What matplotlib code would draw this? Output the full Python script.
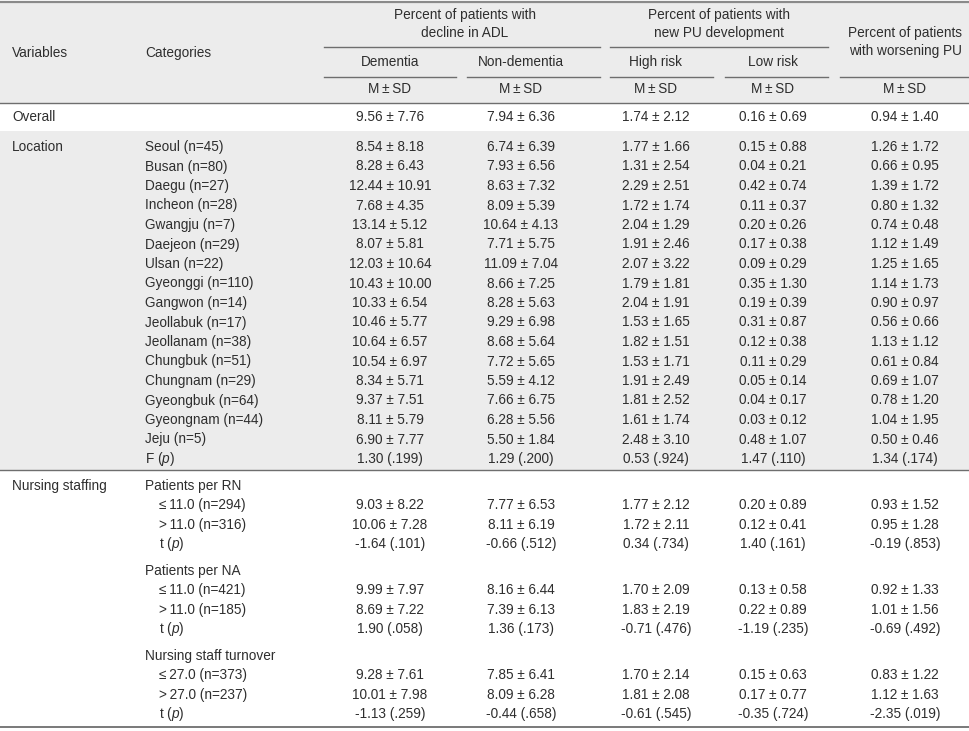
import matplotlib
matplotlib.use("Agg")
from matplotlib import pyplot as plt

plt.rcParams['font.family'] = ['Liberation Sans', 'DejaVu Sans']
plt.rcParams['mathtext.fontset'] = 'custom'
plt.rcParams['mathtext.rm'] = 'Liberation Sans'
plt.rcParams['mathtext.it'] = 'Liberation Sans:italic'

TS = "\u2009"  # thin space

# Column headers
group_headers = ["Percent of patients with\ndecline in ADL",
                 "Percent of patients with\nnew PU development",
                 "Percent of patients\nwith worsening PU"]
sub_headers = ["Dementia", "Non-dementia", "High risk", "Low risk"]

# Overall row
overall_m = [9.56, 7.94, 1.74, 0.16, 0.94]
overall_sd = [7.76, 6.36, 2.12, 0.69, 1.40]

# Location rows
loc_names = ["Seoul", "Busan", "Daegu", "Incheon", "Gwangju", "Daejeon", "Ulsan",
             "Gyeonggi", "Gangwon", "Jeollabuk", "Jeollanam", "Chungbuk",
             "Chungnam", "Gyeongbuk", "Gyeongnam", "Jeju"]
loc_n = [45, 80, 27, 28, 7, 29, 22, 110, 14, 17, 38, 51, 29, 64, 44, 5]
loc_m = [
    [8.54, 6.74, 1.77, 0.15, 1.26],
    [8.28, 7.93, 1.31, 0.04, 0.66],
    [12.44, 8.63, 2.29, 0.42, 1.39],
    [7.68, 8.09, 1.72, 0.11, 0.80],
    [13.14, 10.64, 2.04, 0.20, 0.74],
    [8.07, 7.71, 1.91, 0.17, 1.12],
    [12.03, 11.09, 2.07, 0.09, 1.25],
    [10.43, 8.66, 1.79, 0.35, 1.14],
    [10.33, 8.28, 2.04, 0.19, 0.90],
    [10.46, 9.29, 1.53, 0.31, 0.56],
    [10.64, 8.68, 1.82, 0.12, 1.13],
    [10.54, 7.72, 1.53, 0.11, 0.61],
    [8.34, 5.59, 1.91, 0.05, 0.69],
    [9.37, 7.66, 1.81, 0.04, 0.78],
    [8.11, 6.28, 1.61, 0.03, 1.04],
    [6.90, 5.50, 2.48, 0.48, 0.50],
]
loc_sd = [
    [8.18, 6.39, 1.66, 0.88, 1.72],
    [6.43, 6.56, 2.54, 0.21, 0.95],
    [10.91, 7.32, 2.51, 0.74, 1.72],
    [4.35, 5.39, 1.74, 0.37, 1.32],
    [5.12, 4.13, 1.29, 0.26, 0.48],
    [5.81, 5.75, 2.46, 0.38, 1.49],
    [10.64, 7.04, 3.22, 0.29, 1.65],
    [10.00, 7.25, 1.81, 1.30, 1.73],
    [6.54, 5.63, 1.91, 0.39, 0.97],
    [5.77, 6.98, 1.65, 0.87, 0.66],
    [6.57, 5.64, 1.51, 0.38, 1.12],
    [6.97, 5.65, 1.71, 0.29, 0.84],
    [5.71, 4.12, 2.49, 0.14, 1.07],
    [7.51, 6.75, 2.52, 0.17, 1.20],
    [5.79, 5.56, 1.74, 0.12, 1.95],
    [7.77, 1.84, 3.10, 1.07, 0.46],
]
loc_F = [1.30, 1.29, 0.53, 1.47, 1.34]
loc_p = [".199", ".200", ".924", ".110", ".174"]

# Nursing staffing
staff_groups = ["Patients per RN", "Patients per NA", "Nursing staff turnover"]
staff_cut = [11.0, 11.0, 27.0]
staff_n = [[294, 316], [421, 185], [373, 237]]
staff_m = [
    [[9.03, 7.77, 1.77, 0.20, 0.93], [10.06, 8.11, 1.72, 0.12, 0.95]],
    [[9.99, 8.16, 1.70, 0.13, 0.92], [8.69, 7.39, 1.83, 0.22, 1.01]],
    [[9.28, 7.85, 1.70, 0.15, 0.83], [10.01, 8.09, 1.81, 0.17, 1.12]],
]
staff_sd = [
    [[8.22, 6.53, 2.12, 0.89, 1.52], [7.28, 6.19, 2.11, 0.41, 1.28]],
    [[7.97, 6.44, 2.09, 0.58, 1.33], [7.22, 6.13, 2.19, 0.89, 1.56]],
    [[7.61, 6.41, 2.14, 0.63, 1.22], [7.98, 6.28, 2.08, 0.77, 1.63]],
]
staff_t = [[-1.64, -0.66, 0.34, 1.40, -0.19],
           [1.90, 1.36, -0.71, -1.19, -0.69],
           [-1.13, -0.44, -0.61, -0.35, -2.35]]
staff_p = [[".101", ".512", ".734", ".161", ".853"],
           [".058", ".173", ".476", ".235", ".492"],
           [".259", ".658", ".545", ".724", ".019"]]

# layout (pixels)
W, H = 970, 731
col_x = [390, 521, 656, 773, 905]
FS = 9.8
TXT = '#2e2e2e'
SHADE = '#ececec'
LINE = '#6e6e6e'

fig = plt.figure(figsize=(W / 100, H / 100), dpi=100)
ax = fig.add_axes([0, 0, 1, 1])
ax.set_xlim(0, W)
ax.set_ylim(H, 0)
ax.axis('off')


def txt(x, y, s, ha='left', **kw):
    ax.text(x, y, s, ha=ha, va='center', fontsize=FS, color=TXT, **kw)


def msd(m, sd):
    return f"{m:.2f} \u00b1 {sd:.2f}"


def stat(v, p):
    return f"{v:.2f} ({p})"


def ncount(n):
    return f"(n={n})"


# shaded bands
ax.axhspan(2, 103, color=SHADE, lw=0)
ax.axhspan(131, 470, color=SHADE, lw=0)

# rules
ax.axhline(1.5, color='#8a8a8a', lw=1.6)
ax.axhline(103, color=LINE, lw=1.0)
ax.axhline(470, color=LINE, lw=1.0)
ax.axhline(726.5, color=LINE, lw=1.3)
ax.plot([324, 600], [47, 47], color=LINE, lw=1.0)
ax.plot([610, 828], [47, 47], color=LINE, lw=1.0)
for x0, x1 in [(324, 456), (467, 600), (610, 713), (725, 828), (840, 968)]:
    ax.plot([x0, x1], [76.5, 76.5], color=LINE, lw=1.0)

# header text
txt(12, 53, "Variables")
txt(145, 53, "Categories")
txt(465, 24, group_headers[0], ha='center', linespacing=1.35)
txt(719, 24, group_headers[1], ha='center', linespacing=1.35)
txt(905, 42, group_headers[2], ha='center', linespacing=1.35)
for x, s in zip(col_x[:4], sub_headers):
    txt(x, 62, s, ha='center')
for x in col_x:
    txt(x, 89, f"M{TS}\u00b1{TS}SD", ha='center')

# overall
txt(12, 117, "Overall")
for x, m, sd in zip(col_x, overall_m, overall_sd):
    txt(x, 117, msd(m, sd), ha='center')

# location
y0, dy = 147, 19.5
txt(12, y0, "Location")
for i, name in enumerate(loc_names):
    y = y0 + i * dy
    txt(145, y, f"{name} {ncount(loc_n[i])}")
    for x, m, sd in zip(col_x, loc_m[i], loc_sd[i]):
        txt(x, y, msd(m, sd), ha='center')
y = y0 + len(loc_names) * dy
txt(145, y, "F ($\\mathit{p}$)")
for x, v, p in zip(col_x, loc_F, loc_p):
    txt(x, y, stat(v, p), ha='center')

# nursing staffing
txt(12, 486, "Nursing staffing")
starts = [486, 571, 656]
for g, name in enumerate(staff_groups):
    ys = starts[g]
    txt(145, ys, name)
    for k, sign in enumerate(["\u2264", ">"]):
        y = ys + (k + 1) * 19.3
        txt(159, y, f"{sign}{TS}{staff_cut[g]:.1f} {ncount(staff_n[g][k])}")
        for x, m, sd in zip(col_x, staff_m[g][k], staff_sd[g][k]):
            txt(x, y, msd(m, sd), ha='center')
    y = ys + 3 * 19.3
    txt(159, y, "t ($\\mathit{p}$)")
    for x, v, p in zip(col_x, staff_t[g], staff_p[g]):
        txt(x, y, stat(v, p), ha='center')

fig.savefig("out.png", dpi=100, facecolor='white')
